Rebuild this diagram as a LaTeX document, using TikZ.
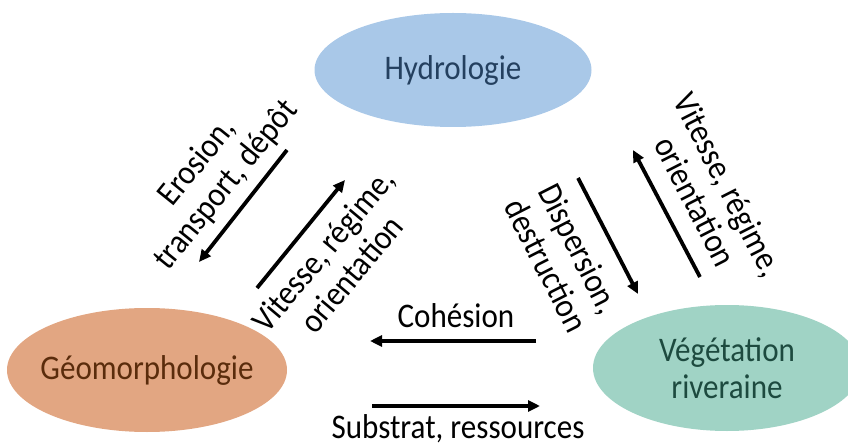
\documentclass[tikz,border=0pt]{standalone}
\usepackage{fontspec}
\setmainfont{Carlito}[FakeStretch=0.9]
\usetikzlibrary{shapes.geometric,arrows.meta}
\definecolor{hydfill}{HTML}{A9C8E8}
\definecolor{hydtext}{HTML}{24405F}
\definecolor{geofill}{HTML}{E2A682}
\definecolor{geotext}{HTML}{5A2C0C}
\definecolor{vegfill}{HTML}{A0D3C5}
\definecolor{vegtext}{HTML}{1D4A3F}
\tikzset{
  blob/.style={ellipse, inner sep=0pt, font=\fontsize{34.5}{37}\selectfont},
  lbl/.style={font=\fontsize{34.5}{37}\selectfont, align=center, inner sep=0pt},
  arr/.style={line width=3.8pt, -{Triangle[length=12pt,width=11pt]}}
}
\begin{document}
\begin{tikzpicture}[x=1pt,y=-1pt]
\useasboundingbox (0,0) rectangle (848,446);
\node[blob, fill=hydfill, text=hydtext, minimum width=277pt, minimum height=114pt] (hyd) at (453,70) {Hydrologie};
\node[blob, fill=geofill, text=geotext, minimum width=280pt, minimum height=124pt] (geo) at (147,370) {\makebox[0pt]{Géomorphologie}};
\node[blob, fill=vegfill, text=vegtext, minimum width=268pt, minimum height=126pt, align=center, font=\fontsize{34.5}{37}\selectfont] (veg) at (727,368) {Végétation\\riveraine};

% left pair
\coordinate (a1s) at (287,150); \coordinate (a1e) at (199,262);
\coordinate (a2s) at (257,288); \coordinate (a2e) at (345,180);
\draw[arr] (a1s) -- (a1e);
\draw[arr] (a2s) -- (a2e);
\node[lbl, rotate=51] (l1) at (212,174) {Erosion,\\transport, dépôt};
\node[lbl, rotate=50] (l2) at (337,262) {Vitesse, régime,\\orientation};

% right pair
\coordinate (b1s) at (578,178); \coordinate (b1e) at (638,294);
\coordinate (b2s) at (700,277); \coordinate (b2e) at (633,150);
\draw[arr] (b1s) -- (b1e);
\draw[arr] (b2s) -- (b2e);
\node[lbl, rotate=-63] (r1) at (563,257) {Dispersion,\\destruction};
\node[lbl, rotate=-63] (r2) at (712,193) {Vitesse, régime,\\orientation};

% bottom pair
\coordinate (c1s) at (536,341); \coordinate (c1e) at (370,341);
\coordinate (c2s) at (372,406); \coordinate (c2e) at (540,406);
\draw[arr] (c1s) -- (c1e);
\draw[arr] (c2s) -- (c2e);
\node[lbl] (coh) at (456,316) {Cohésion};
\node[lbl] (sub) at (458,429) {Substrat, ressources};
\end{tikzpicture}
\end{document}
